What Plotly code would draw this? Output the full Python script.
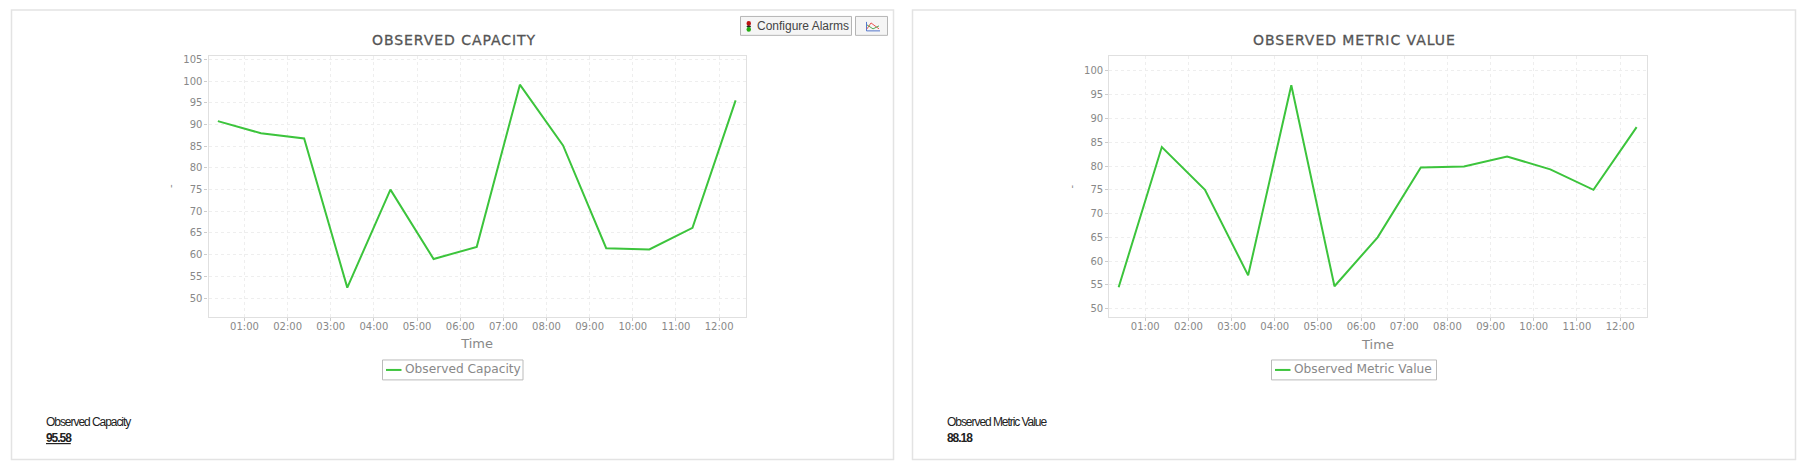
import plotly.graph_objects as go

W = 1809
H = 473

times = ["2024-01-01 00:23", "2024-01-01 01:23", "2024-01-01 02:23", "2024-01-01 03:23",
         "2024-01-01 04:23", "2024-01-01 05:23", "2024-01-01 06:23", "2024-01-01 07:23",
         "2024-01-01 08:23", "2024-01-01 09:23", "2024-01-01 10:23", "2024-01-01 11:23",
         "2024-01-01 12:23"]
capacity = [90.8, 88.0, 86.8, 52.4, 75.0, 59.0, 61.8, 99.2, 85.2, 61.5, 61.2, 66.2, 95.58]
metric = [54.5, 84.0, 75.0, 57.0, 97.0, 54.7, 65.0, 79.7, 79.9, 82.0, 79.3, 75.0, 88.18]
capacity_ticks = [50, 55, 60, 65, 70, 75, 80, 85, 90, 95, 100, 105]
metric_ticks = [50, 55, 60, 65, 70, 75, 80, 85, 90, 95, 100]
x_range = ["2024-01-01 00:10", "2024-01-01 12:37"]

GREEN = "#3cc43c"
GRID = "#eeeeee"
EDGE = "#e0e0e0"
GREY = "#888888"


def px(x):
    return x / W


def py(y):
    return 1 - y / H


fig = go.Figure()
fig.add_trace(go.Scatter(x=times, y=capacity, mode="lines", name="Observed Capacity",
                         line=dict(color=GREEN, width=2), xaxis="x", yaxis="y"))
fig.add_trace(go.Scatter(x=times, y=metric, mode="lines", name="Observed Metric Value",
                         line=dict(color=GREEN, width=2), xaxis="x2", yaxis="y2"))


def xaxis(left, right, anchor):
    return dict(domain=[px(left), px(right)], anchor=anchor, type="date", range=x_range,
                dtick=3600000, tick0="2024-01-01 01:00", tickformat="%H:%M",
                showgrid=True, gridcolor=GRID, griddash="3px,3px", gridwidth=1, zeroline=False,
                showline=True, linecolor=EDGE, linewidth=1.2, mirror=True,
                ticks="outside", ticklen=3, tickcolor="#cccccc", ticklabelstandoff=-3,
                tickfont=dict(family="DejaVu Sans", size=10, color=GREY),
                title=dict(text="Time", font=dict(family="DejaVu Sans", size=13, color=GREY), standoff=8))


def yaxis(top, bottom, rng, ticks, anchor):
    return dict(domain=[py(bottom), py(top)], anchor=anchor, range=rng, tickvals=ticks,
                showgrid=True, gridcolor=GRID, griddash="3px,3px", gridwidth=1, zeroline=False,
                showline=True, linecolor=EDGE, linewidth=1.2, mirror=True,
                ticks="outside", ticklen=3, tickcolor="#cccccc",
                tickfont=dict(family="DejaVu Sans", size=10, color=GREY),
                title=dict(text="-", font=dict(family="DejaVu Sans", size=10, color=GREY), standoff=6))


def box(x0, y0, x1, y1, **kw):
    return dict(type="rect", xref="paper", yref="paper", x0=px(x0), x1=px(x1), y0=py(y0), y1=py(y1), **kw)


def dot(x0, y0, x1, y1, color):
    return dict(type="circle", xref="paper", yref="paper", x0=px(x0), x1=px(x1), y0=py(y0), y1=py(y1),
                line=dict(width=0), fillcolor=color)


def seg(x0, y0, x1, y1, color, width=1):
    return dict(type="line", xref="paper", yref="paper", x0=px(x0), x1=px(x1), y0=py(y0), y1=py(y1),
                line=dict(color=color, width=width))


shapes = [
    box(11.5, 8, 893.5, 459.5, line=dict(color="#e3e3e3", width=1.5), fillcolor="white", layer="below"),
    box(912.5, 8, 1795.5, 459.5, line=dict(color="#e3e3e3", width=1.5), fillcolor="white", layer="below"),
    # buttons
    box(740.5, 14.5, 851.5, 33.5, line=dict(color="#b5b5b5", width=1), fillcolor="#f5f5f5"),
    box(855.5, 14.5, 887.5, 33.5, line=dict(color="#b5b5b5", width=1), fillcolor="#f5f5f5"),
    # traffic light
    dot(746.5, 19, 751, 24, "#bb1111"),
    dot(746.5, 23.5, 751, 25.5, "#222222"),
    dot(746.5, 25, 751, 30, "#22aa11"),
    # little chart icon
    seg(866.5, 20, 866.5, 29, "#5577cc"),
    seg(866.5, 29, 880, 29, "#5577cc"),
    seg(867, 27, 871, 21, "#ee5555"),
    seg(871, 21, 879, 27, "#ee5555"),
    seg(867, 23, 873, 27, "#55aa55"),
    seg(873, 27, 879, 24, "#55aa55"),
    # legends
    box(382.5, 359.5, 523, 379.5, line=dict(color="#bbbbbb", width=1), fillcolor="white"),
    seg(386, 369.5, 401.5, 369.5, GREEN, 2),
    box(1271.5, 359.5, 1436.5, 379.5, line=dict(color="#bbbbbb", width=1), fillcolor="white"),
    seg(1275, 369.5, 1290.5, 369.5, GREEN, 2),
]


def text(x, y, s, size, color, family="Liberation Sans", anchor="left"):
    return dict(text=s, x=px(x), y=py(y), xref="paper", yref="paper", xanchor=anchor, yanchor="middle",
                align=anchor, showarrow=False, font=dict(family=family, size=size, color=color))


annotations = [
    text(454, 38.5, "OBSERVED CAPACITY", 14, "#555555", "DejaVu Sans", "center"),
    text(1354.5, 38.5, "OBSERVED METRIC VALUE", 14, "#555555", "DejaVu Sans", "center"),
    text(755, 24, "Configure Alarms", 12, "#444444"),
    text(403, 369, "Observed Capacity", 12.2, GREY, "DejaVu Sans"),
    text(1292, 369, "Observed Metric Value", 12.2, GREY, "DejaVu Sans"),
    text(43.5, 422, "Observed Capacity", 12, "#222222"),
    text(43.5, 438, "<b><u>95.58</u></b>", 12, "#222222"),
    text(944.5, 422, "Observed Metric Value", 12, "#222222"),
    text(944.5, 438, "<b>88.18</b>", 12, "#222222"),
]

fig.update_layout(
    width=W, height=H, margin=dict(l=0, r=0, t=0, b=0),
    paper_bgcolor="white", plot_bgcolor="white", showlegend=False,
    xaxis=xaxis(208.5, 745.7, "y"),
    yaxis=yaxis(54, 316, [45.7, 105.87], capacity_ticks, "x"),
    xaxis2=xaxis(1109.3, 1646.7, "y2"),
    yaxis2=yaxis(54.5, 316.5, [48.2, 103.1], metric_ticks, "x2"),
    shapes=shapes,
    annotations=annotations,
)

# letter spacing on the titles and footer labels, as on the original page
spacing = """
document.body.style.margin='0';
document.querySelectorAll('.annotation-text').forEach(function(t){
  var s = t.textContent;
  if (s.indexOf('OBSERVED') === 0) {
    t.style.letterSpacing = '0.95px';
    t.style.stroke = '#555555';
    t.style.strokeWidth = '0.3px';
  } else if (s === '95.58' || s === '88.18' || (s.indexOf('Observed') === 0 && t.style.fontFamily.indexOf('Liberation') >= 0)) {
    t.style.letterSpacing = '-1.05px';
  }
});
"""
fig.write_html("out.html", config=dict(displayModeBar=False), post_script=spacing)
